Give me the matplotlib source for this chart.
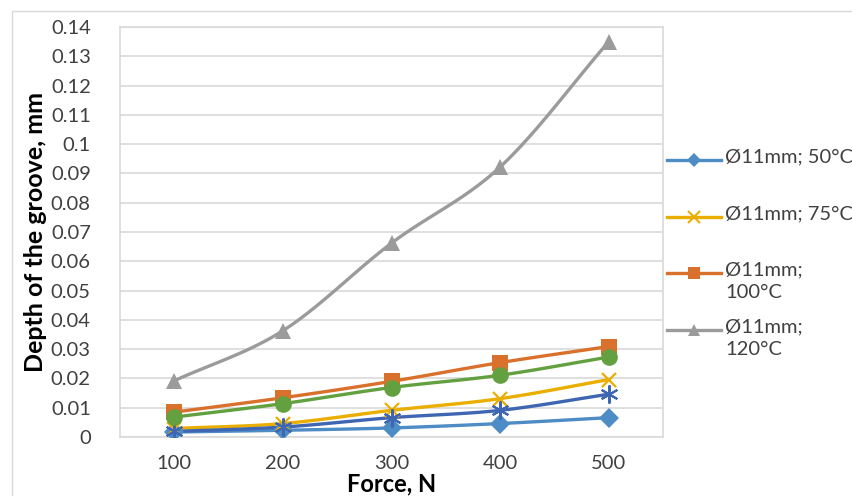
import numpy as np
import matplotlib
matplotlib.use("Agg")
import matplotlib.pyplot as plt
from matplotlib.lines import Line2D
from matplotlib.patches import Rectangle

plt.rcParams['font.family'] = ['Lato', 'DejaVu Sans']

forces = [100, 200, 300, 400, 500]

d50 = [0.0017, 0.0023, 0.0031, 0.0046, 0.0066]
d75 = [0.0029, 0.0046, 0.0091, 0.0131, 0.0196]
d100 = [0.0085, 0.0134, 0.0190, 0.0254, 0.0309]
d120 = [0.0192, 0.0363, 0.0662, 0.0922, 0.1350]
d_extra_star = [0.0019, 0.0034, 0.0066, 0.0091, 0.0146]
d_extra_circle = [0.0068, 0.0114, 0.0169, 0.0211, 0.0273]

labels = ["Ø11mm; 50°C", "Ø11mm; 75°C", "Ø11mm;\n100°C", "Ø11mm;\n120°C"]
y_ticks = [0, 0.01, 0.02, 0.03, 0.04, 0.05, 0.06, 0.07, 0.08, 0.09,
           0.1, 0.11, 0.12, 0.13, 0.14]
y_tick_labels = ["0", "0.01", "0.02", "0.03", "0.04", "0.05", "0.06", "0.07",
                 "0.08", "0.09", "0.1", "0.11", "0.12", "0.13", "0.14"]

c_blue = "#4E8CC6"
c_yellow = "#EAAE00"
c_orange = "#D9702B"
c_gray = "#9B9B9B"
c_dblue = "#3E66B3"
c_green = "#63A03F"

W, H = 852, 496
fig = plt.figure(figsize=(W / 100, H / 100), dpi=100)

# outer chart frame (only left and top edges fall inside the canvas)
fig.add_artist(Rectangle((12 / W, -0.05), 1.2, 1.05 - 11 / H,
                         transform=fig.transFigure, fill=False,
                         edgecolor="#D9D9D9", lw=1.0))

ax = fig.add_axes([120 / W, (H - 437) / H, (663 - 120) / W, (437 - 27) / H])


def smooth(xs, ys, n=30):
    # Catmull-Rom style smoothing through the data points
    xs = np.asarray(xs, float)
    ys = np.asarray(ys, float)
    px = np.concatenate([[2 * xs[0] - xs[1]], xs, [2 * xs[-1] - xs[-2]]])
    py = np.concatenate([[2 * ys[0] - ys[1]], ys, [2 * ys[-1] - ys[-2]]])
    out_x, out_y = [], []
    for i in range(1, len(px) - 2):
        t = np.linspace(0, 1, n)
        for arr, out in ((px, out_x), (py, out_y)):
            p0, p1, p2, p3 = arr[i - 1], arr[i], arr[i + 1], arr[i + 2]
            b0 = p1
            b1 = p1 + (p2 - p0) / 6
            b2 = p2 - (p3 - p1) / 6
            b3 = p2
            out.extend((1 - t) ** 3 * b0 + 3 * (1 - t) ** 2 * t * b1
                       + 3 * (1 - t) * t ** 2 * b2 + t ** 3 * b3)
    return np.array(out_x), np.array(out_y)


xpos = np.arange(1, len(forces) + 1)

series = [
    (d50, c_blue, "D", 10, None),
    (d100, c_orange, "s", 11, None),
    (d120, c_gray, "^", 11, None),
    (d75, c_yellow, "x", 10, 1.6),
    (d_extra_star, c_dblue, (6, 2, 0), 13, 1.5),
    (d_extra_circle, c_green, "o", 12, None),
]

for ys, col, mk, ms, mew in series:
    sx, sy = smooth(xpos, ys)
    ax.plot(sx, sy, color=col, lw=2.4, solid_capstyle="round", zorder=3)
    kw = dict(markeredgewidth=mew) if mew else dict(markeredgewidth=0)
    ax.plot(xpos, ys, ls="none", marker=mk, ms=ms, color=col,
            markerfacecolor=col, markeredgecolor=col, zorder=4, **kw)

ax.set_xlim(0.5, 5.5)
ax.set_ylim(0, 0.14)
ax.set_yticks(y_ticks)
ax.set_yticklabels(y_tick_labels)
ax.set_xticks(xpos)
ax.set_xticklabels([str(f) for f in forces])
ax.tick_params(axis="both", length=0, labelsize=14.5, colors="#404040")
ax.tick_params(axis="y", pad=21)
ax.tick_params(axis="x", pad=13)
ax.grid(axis="y", color="#D9D9D9", lw=1.2)
ax.set_axisbelow(True)
for s in ax.spines.values():
    s.set_color("#D9D9D9")
    s.set_linewidth(1.2)

ax.set_xlabel("Force, N", fontsize=17, fontweight="bold", labelpad=0)
ax.set_ylabel("Depth of the groove, mm", fontsize=18, fontweight="bold",
              labelpad=3)

# legend drawn at the right of the plot area
leg_items = [
    (labels[0], c_blue, "D", 7, 160, None),
    (labels[1], c_yellow, "x", 8, 217, 1.5),
    (labels[2], c_orange, "s", 9, 273, None),
    (labels[3], c_gray, "^", 9, 330, None),
]
for text, col, mk, ms, yp, mew in leg_items:
    yf = 1 - yp / H
    fig.add_artist(Line2D([667 / W, 721 / W], [yf, yf],
                          transform=fig.transFigure, color=col, lw=2.4))
    kw = dict(markeredgewidth=mew) if mew else dict(markeredgewidth=0)
    fig.add_artist(Line2D([694 / W], [yf], transform=fig.transFigure,
                          ls="none", marker=mk, ms=ms, color=col, **kw))
    fig.text(725 / W, yf + 12 / H, text, fontsize=14.5, color="#404040",
             va="top", ha="left", linespacing=1.45,
             transform=fig.transFigure)

fig.savefig("out.png", dpi=100)
